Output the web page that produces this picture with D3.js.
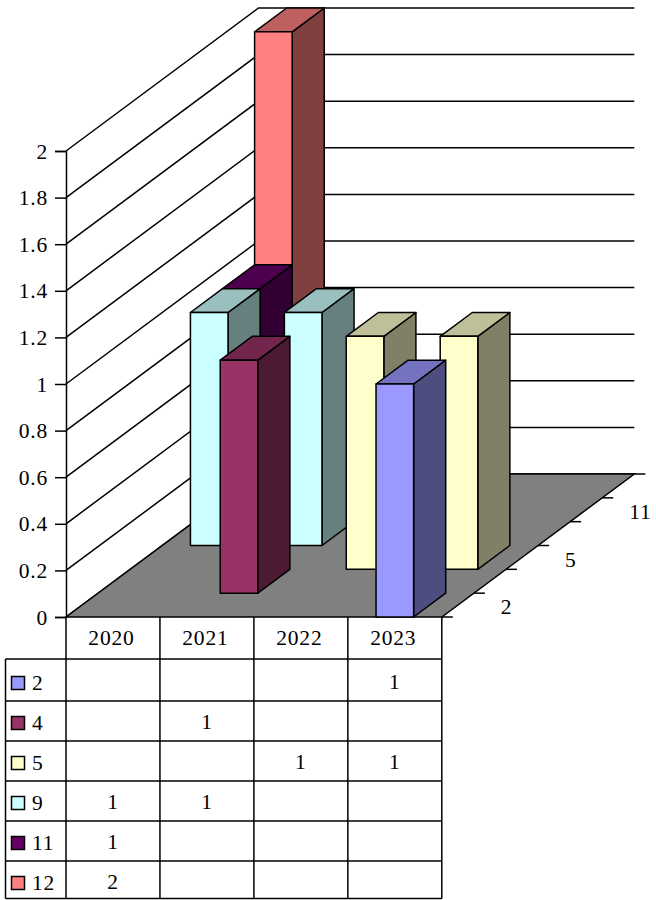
<!DOCTYPE html>
<html>
<head>
<meta charset="utf-8">
<script src="https://cdn.jsdelivr.net/npm/d3@7/dist/d3.min.js"></script>
<style>
html,body{margin:0;padding:0;background:#fff}
svg{display:block}
text{font-family:"Liberation Serif","Times New Roman",serif;font-size:21.5px;fill:#000;letter-spacing:0.8px}
</style>
</head>
<body>
<svg id="chart" width="656" height="900"></svg>
<script>
// ---- data ----
const years = ["2020", "2021", "2022", "2023"];
const seriesNames = ["2", "4", "5", "9", "11", "12"];
const values2 = [null, null, null, 1];
const values4 = [null, 1, null, null];
const values5 = [null, null, 1, 1];
const values9 = [1, 1, null, null];
const values11 = [1, null, null, null];
const values12 = [2, null, null, null];
const allValues = [values2, values4, values5, values9, values11, values12];
const frontColors = ["#9999FF", "#993366", "#FFFFCC", "#CCFFFF", "#660066", "#FF8080"];
const valueTicks = [0, 0.2, 0.4, 0.6, 0.8, 1, 1.2, 1.4, 1.6, 1.8, 2];
const depthLabels = ["2", "5", "11"];

// ---- scales ----
const svg = d3.select("#chart");
const x = d3.scaleBand().domain(years).range([66, 441.8]);
const xBar = d3.scaleBand().domain(years).range([66, 441.8]).paddingInner(0.6).paddingOuter(0.3);
const y = d3.scaleLinear().domain([0, 2]).range([617, 151]);
const depthX = d3.scaleBand().domain(seriesNames).range([0, 192.5]);
const depthY = d3.scaleBand().domain(seriesNames).range([0, -143]);
const rowY = d3.scaleBand().domain(seriesNames).range([661, 901]);
const shade = (c, k) => { const r = d3.rgb(c); return d3.rgb(r.r * k, r.g * k, r.b * k).formatHex(); };
const SW = 1.5;
const pts = a => a.map(p => p.join(",")).join(" ");
const line = (g, x1, y1, x2, y2) => g.append("line").attr("x1", x1).attr("y1", y1).attr("x2", x2).attr("y2", y2)
  .attr("stroke", "#000").attr("stroke-width", SW);

// ---- walls and floor ----
const DX = depthX.range()[1], DY = depthY.range()[1];
const wall = svg.append("g");
valueTicks.forEach(v => {
  wall.append("polyline").attr("points", pts([[x.range()[0], y(v)], [x.range()[0] + DX, y(v) + DY], [x.range()[1] + DX, y(v) + DY]]))
    .attr("fill", "none").attr("stroke", "#000").attr("stroke-width", SW);
});
wall.append("polygon")
  .attr("points", pts([[x.range()[0], y(0)], [x.range()[1], y(0)], [x.range()[1] + DX, y(0) + DY], [x.range()[0] + DX, y(0) + DY]]))
  .attr("fill", "#808080").attr("stroke", "#000").attr("stroke-width", SW);

// value axis
const axis = d3.axisLeft(y).tickValues(valueTicks).tickSize(11).tickPadding(7).tickFormat(d => String(+d));
const gAxis = svg.append("g").attr("transform", `translate(${x.range()[0]},0)`).call(axis);
gAxis.selectAll("path,line").attr("stroke", "#000").attr("stroke-width", SW);
gAxis.selectAll("text").attr("dy", "0.33em");
gAxis.attr("font-family", null).attr("font-size", null);

// depth axis
const depthG = svg.append("g");
const edge = i => [x.range()[1] + DX * i / seriesNames.length, y(0) + DY * i / seriesNames.length];
d3.range(seriesNames.length + 1).forEach(i => { const [a, b] = edge(i); line(depthG, a, b, a + 11, b); });
depthLabels.forEach(n => {
  const s = seriesNames.indexOf(n);
  const [xm, ym] = edge(s + 0.5);
  depthG.append("text").attr("x", xm + 43).attr("y", ym + 2).attr("dy", "0.33em").text(n);
});

// ---- bars, back to front ----
const barsG = svg.append("g");
const dBarX = depthX.bandwidth(), dBarY = -Math.abs(depthY.bandwidth());
d3.range(seriesNames.length - 1, -1, -1).forEach(s => {
  const name = seriesNames[s], col = frontColors[s];
  years.forEach((yr, c) => {
    const v = allValues[s][c];
    if (v == null) return;
    const x0 = xBar(yr) + depthX(name), x1 = x0 + xBar.bandwidth();
    const base = y(0) + s * dBarY, top = y(v) + s * dBarY;
    const g = barsG.append("g").attr("stroke", "#000").attr("stroke-width", SW).attr("stroke-linejoin", "round");
    g.append("polygon").attr("points", pts([[x1, base], [x1 + dBarX, base + dBarY], [x1 + dBarX, top + dBarY], [x1, top]])).attr("fill", shade(col, 0.5));
    g.append("polygon").attr("points", pts([[x0, top], [x1, top], [x1 + dBarX, top + dBarY], [x0 + dBarX, top + dBarY]])).attr("fill", shade(col, 0.75));
    g.append("rect").attr("x", x0).attr("y", top).attr("width", x1 - x0).attr("height", base - top).attr("fill", col);
  });
});

// ---- data table ----
const t = svg.append("g");
const tTop = y(0), tRow0 = rowY.range()[0] - 2, tBottom = rowY.range()[1] - 2.5, tLeft = 5.5;
x.domain().concat([null]).forEach(d => {
  const xx = d === null ? x.range()[1] : x(d);
  line(t, xx, tTop, xx, tBottom);
});
line(t, tLeft, tRow0, tLeft, tBottom);
line(t, tLeft, tRow0, x.range()[1], tRow0);
line(t, tLeft, tBottom, x.range()[1], tBottom);
seriesNames.slice(1).forEach(n => line(t, tLeft, rowY(n), x.range()[1], rowY(n)));
years.forEach(yr => {
  t.append("text").attr("x", x(yr) + x.bandwidth() / 2 - 1.5).attr("y", 638).attr("dy", "0.33em").attr("text-anchor", "middle").text(yr);
});
seriesNames.forEach((n, s) => {
  const cy = rowY(n) + rowY.bandwidth() / 2 + 2;
  t.append("rect").attr("x", 11.5).attr("y", cy - 6.5).attr("width", 13).attr("height", 13)
    .attr("fill", frontColors[s]).attr("stroke", "#000").attr("stroke-width", SW);
  t.append("text").attr("x", 32).attr("y", cy).attr("dy", "0.33em").text(n);
  years.forEach((yr, c) => {
    const v = allValues[s][c];
    if (v == null) return;
    t.append("text").attr("x", x(yr) + x.bandwidth() / 2).attr("y", cy - 1).attr("dy", "0.33em").attr("text-anchor", "middle").text(v);
  });
});
</script>
</body>
</html>
